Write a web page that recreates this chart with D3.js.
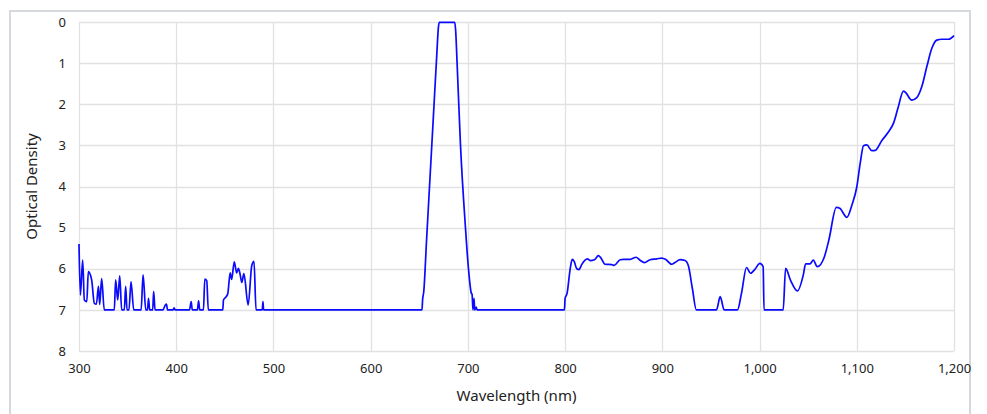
<!DOCTYPE html>
<html>
<head>
<meta charset="utf-8">
<script src="https://cdn.jsdelivr.net/npm/d3@7"></script>
<style>
  html, body { margin: 0; padding: 0; background: #fff; }
  svg { display: block; }
  text { font-family: "Segoe UI", "Noto Sans", "Open Sans", sans-serif; fill: #222; }
</style>
</head>
<body>
<svg id="chart" width="987" height="414"></svg>
<script>
// Wavelength (nm)
const wavelength = [
  300,301.4,303.8,305.5,308,309.6,313,315.8,317.9,320,321.3,323.3,326,336.3,337.7,339.8,341.9,343.9,346.6,348,349.4,351.4,353.5,356.3,363.9,365.9,368.7,370.5,371.5,372.7,375.8,376.8,378.2,386.4,388.8,390,391,396.8,397.8,398.8,413.6,415.4,416.5,421.8,423,424.2,428,429.4,431.4,433,447.9,448.6,451.3,453,455.5,457,459.7,462.2,463.9,465.6,467.5,469.6,474,477.7,480,482.1,488.5,489.2,489.9,
  652.8,653.4,654.6,657.5,661,664.5,668,669.6,670.5,686.5,687.4,688.9,692.4,697.5,700.6,703.6,704.3,705.2,706.3,707,708.6,709.3,
  799.3,800,802,805.3,807.3,809.3,812,814.3,817,823,825.7,830.2,834.3,836.6,841.1,848,850.4,856.6,860,866.9,873,876.5,881.6,887.4,894.3,899.4,903.8,909.6,913,918.2,923.4,926.8,930.9,935,955.7,959.5,963.6,977.3,981.4,986.6,990.7,995,1000.3,1003.7,1004.6,1024.3,1026.8,1032,1038.9,1045,1047.4,1051.9,1055.3,1059.3,1066.8,1071.3,1079,1082.5,1089.8,1095,1100.1,1103.5,1106.9,1110.3,1115.5,1119,1125.8,1132.7,1137.8,1142.3,1148,1150.4,1156.6,1161.7,1166.9,1172,1177.2,1182.3,1187.5,1194.3,1200
];
// Optical density
const opticalDensity = [
  5.4,6.64,5.79,6.76,6.8,6.07,6.27,6.84,6.86,6.43,6.87,6.24,7,7,6.27,6.76,6.17,7,7,6.43,7,7,6.31,7,7,6.15,7,7,6.72,7,7,6.55,7,7,6.88,6.86,7,7,6.95,7,7,6.8,7,7,6.78,7,7,6.25,6.29,7,7,6.76,6.68,6.61,6.1,6.26,5.83,6.1,5.99,6.12,6.33,6.12,6.88,5.92,5.82,7,7,6.8,7,
  7,6.76,6.56,5.3,3.8,2.3,0.8,0.15,0.01,0.01,0.2,1.0,3.0,5.0,6.0,6.6,6.62,7,6.72,7,6.93,7,
  7,6.72,6.6,5.99,5.77,5.82,6.0,6.02,5.9,5.76,5.8,5.78,5.68,5.73,5.89,5.9,5.92,5.78,5.77,5.77,5.72,5.78,5.85,5.78,5.76,5.74,5.78,5.89,5.85,5.78,5.8,5.93,6.48,7,7,6.68,7,7,6.6,5.97,6.11,6.02,5.87,5.95,7,7,5.99,6.29,6.54,6.15,5.88,5.88,5.79,5.95,5.7,5.3,4.51,4.53,4.75,4.45,4.0,3.44,3.01,2.99,3.13,3.12,2.88,2.67,2.46,2.1,1.68,1.72,1.9,1.84,1.57,1.09,0.64,0.44,0.42,0.42,0.33
];
const xTicks = [300,400,500,600,700,800,900,1000,1100,1200];
const yTicks = [0,1,2,3,4,5,6,7,8];
const xTitle = "Wavelength (nm)";
const yTitle = "Optical Density";

const svg = d3.select("#chart");
const W = 987, H = 414;
const m = {left: 79, right: 33, top: 22, bottom: 63};
const x = d3.scaleLinear().domain([300, 1200]).range([m.left, W - m.right]);
const y = d3.scaleLinear().domain([0, 8]).range([m.top, H - m.bottom]);

// outer frame
svg.append("rect")
  .attr("x", 10).attr("y", 11).attr("width", 960).attr("height", 420)
  .attr("fill", "#fff").attr("stroke", "#d5d8dd").attr("stroke-width", 2);

// grid
const g = svg.append("g");
g.selectAll("line.vx").data(xTicks).join("line")
  .attr("x1", d => Math.round(x(d)) + 0.5).attr("x2", d => Math.round(x(d)) + 0.5)
  .attr("y1", y(0)).attr("y2", y(8))
  .attr("stroke", "#e1e1e1").attr("stroke-width", 1.3);
g.selectAll("line.hy").data(yTicks).join("line")
  .attr("y1", d => Math.round(y(d)) + 0.5).attr("y2", d => Math.round(y(d)) + 0.5)
  .attr("x1", x(300)).attr("x2", x(1200))
  .attr("stroke", "#e1e1e1").attr("stroke-width", 1.3);

// axes (labels only)
const xAxis = d3.axisBottom(x).tickValues(xTicks).tickFormat(d3.format(",")).tickSize(0).tickPadding(13);
const xg = svg.append("g").attr("transform", `translate(0,${y(8)})`).call(xAxis);
xg.select(".domain").remove();
xg.selectAll("text").style("font-size", "13px").attr("fill", "#222");

const yAxis = d3.axisLeft(y).tickValues(yTicks).tickFormat(d3.format("d")).tickSize(0).tickPadding(13);
const yg = svg.append("g").attr("transform", `translate(${x(300)},0)`).call(yAxis);
yg.select(".domain").remove();
yg.selectAll("text").style("font-size", "13px").attr("fill", "#222");

// titles
svg.append("text").attr("x", (x(300) + x(1200)) / 2).attr("y", 401)
  .attr("text-anchor", "middle").style("font-size", "15px").text(xTitle);
svg.append("text").attr("transform", `translate(37,${(y(0) + y(8)) / 2}) rotate(-90)`)
  .attr("text-anchor", "middle").style("font-size", "15px").text(yTitle);

// line
const pts = wavelength.map((w, i) => [w, opticalDensity[i]]);
const line = d3.line().x(d => x(d[0])).y(d => y(d[1])).curve(d3.curveMonotoneX);
svg.append("path").datum(pts).attr("d", line)
  .attr("fill", "none").attr("stroke", "#0a0aff").attr("stroke-width", 1.7)
  .attr("stroke-linejoin", "round");
</script>
</body>
</html>
